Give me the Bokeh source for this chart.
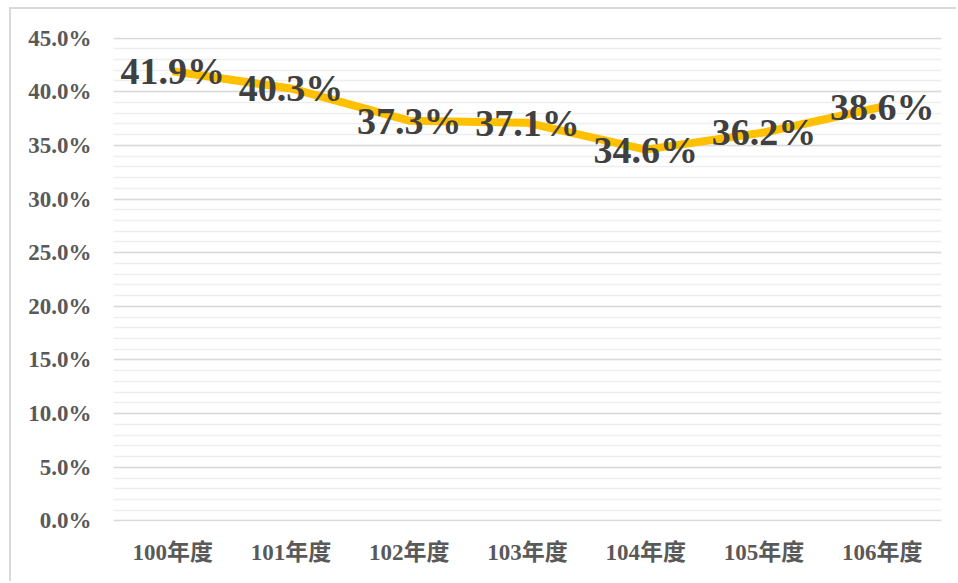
from bokeh.plotting import figure
from bokeh.models import ColumnDataSource, Range1d, FactorRange, SingleIntervalTicker, PrintfTickFormatter
from bokeh.core.properties import value
from bokeh.embed import file_html
from bokeh.resources import INLINE

categories = ["100年度", "101年度", "102年度", "103年度", "104年度", "105年度", "106年度"]
rates = [41.9, 40.3, 37.3, 37.1, 34.6, 36.2, 38.6]
labels = [f"{v:.1f}%" for v in rates]

source = ColumnDataSource(dict(cat=categories, val=rates, lbl=labels))

p = figure(width=947, height=574, x_range=FactorRange(*categories, range_padding=0),
           y_range=Range1d(-0.05, 45.05), output_backend="svg", toolbar_location=None,
           min_border_left=102, min_border_right=17, min_border_top=28, min_border_bottom=62)
p.margin = (7, 0, 0, 9)
p.styles = {"border-top": "2px solid #d9d9d9", "border-left": "2px solid #d9d9d9"}
p.outline_line_color = None
p.background_fill_color = "white"
p.border_fill_color = "white"

p.xgrid.grid_line_color = None
p.yaxis.ticker = SingleIntervalTicker(interval=5, num_minor_ticks=5)
p.ygrid.grid_line_color = "#d9d9d9"
p.ygrid.grid_line_width = 1.5
p.ygrid.minor_grid_line_color = "#eeeeee"
p.ygrid.minor_grid_line_width = 1.5

for ax in (p.xaxis, p.yaxis):
    ax.axis_line_color = None
    ax.major_tick_line_color = None
    ax.minor_tick_line_color = None
    ax.major_label_text_font = "Liberation Serif, Noto Sans CJK TC"
    ax.major_label_text_font_style = "bold"
    ax.major_label_text_font_size = "23px"
    ax.major_label_text_color = "#595959"
p.yaxis.formatter = PrintfTickFormatter(format="%.1f%%")
p.yaxis.major_label_standoff = 16
p.xaxis.major_label_standoff = 12

p.line(x="cat", y="val", source=source, line_color="#FFC000", line_width=8, line_join="round")
p.text(x="cat", y="val", text="lbl", source=source, text_align="center", text_baseline="middle",
       text_font=value("Liberation Serif"), text_font_style="bold", text_font_size="38px",
       text_color="#404040")

open("out.html", "w").write(file_html(p, INLINE))
